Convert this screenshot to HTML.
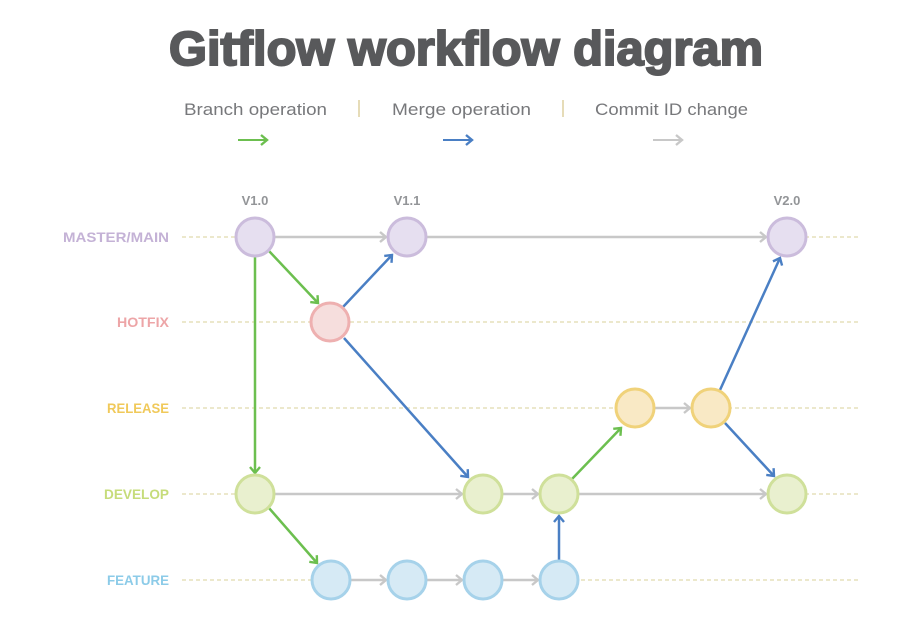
<!DOCTYPE html>
<html><head><meta charset="utf-8"><style>
html,body{margin:0;padding:0;background:#fff}
svg{display:block}
text{font-family:"Liberation Sans",sans-serif}
</style></head><body>
<svg width="917" height="634" viewBox="0 0 917 634" xmlns="http://www.w3.org/2000/svg">
<defs>
<marker id="g" viewBox="0 0 12 12" refX="10" refY="6" markerWidth="12" markerHeight="12" markerUnits="userSpaceOnUse" orient="auto"><path d="M4,1 L10,6 L4,11" fill="none" stroke="#c8c8c8" stroke-width="2.4"/></marker>
<marker id="gr" viewBox="0 0 12 12" refX="10" refY="6" markerWidth="12" markerHeight="12" markerUnits="userSpaceOnUse" orient="auto"><path d="M4,1 L10,6 L4,11" fill="none" stroke="#6cbf4f" stroke-width="2.4"/></marker>
<marker id="b" viewBox="0 0 12 12" refX="10" refY="6" markerWidth="12" markerHeight="12" markerUnits="userSpaceOnUse" orient="auto"><path d="M4,1 L10,6 L4,11" fill="none" stroke="#4a7fc4" stroke-width="2.4"/></marker>
</defs>
<text x="466" y="65" text-anchor="middle" font-size="48" font-weight="bold" fill="#58595b" stroke="#58595b" stroke-width="2" textLength="594" lengthAdjust="spacingAndGlyphs">Gitflow workflow diagram</text>
<g font-size="17" fill="#77787b">
<text x="184" y="115" textLength="143" lengthAdjust="spacingAndGlyphs">Branch operation</text>
<text x="392" y="115" textLength="139" lengthAdjust="spacingAndGlyphs">Merge operation</text>
<text x="595" y="115" textLength="153" lengthAdjust="spacingAndGlyphs">Commit ID change</text>
</g>
<line x1="359" y1="100" x2="359" y2="117" stroke="#e6dcb8" stroke-width="2"/>
<line x1="563" y1="100" x2="563" y2="117" stroke="#e6dcb8" stroke-width="2"/>
<line x1="238" y1="140" x2="267" y2="140" stroke="#6cbf4f" stroke-width="2" marker-end="url(#gr)"/>
<line x1="443" y1="140" x2="472" y2="140" stroke="#4a7fc4" stroke-width="2" marker-end="url(#b)"/>
<line x1="653" y1="140" x2="682" y2="140" stroke="#c8c8c8" stroke-width="2" marker-end="url(#g)"/>
<g stroke="#e6e0bc" stroke-width="1.5" stroke-dasharray="4,3">
<line x1="182" y1="237" x2="860" y2="237"/><line x1="182" y1="322" x2="860" y2="322"/>
<line x1="182" y1="408" x2="860" y2="408"/><line x1="182" y1="494" x2="860" y2="494"/>
<line x1="182" y1="580" x2="860" y2="580"/>
</g>
<g font-size="14" font-weight="bold" text-anchor="end" lengthAdjust="spacingAndGlyphs">
<text x="169" y="242" fill="#c4b2d6" textLength="106" lengthAdjust="spacingAndGlyphs">MASTER/MAIN</text>
<text x="169" y="327" fill="#eda5a7" textLength="52" lengthAdjust="spacingAndGlyphs">HOTFIX</text>
<text x="169" y="413" fill="#f0c95a" textLength="62" lengthAdjust="spacingAndGlyphs">RELEASE</text>
<text x="169" y="499" fill="#c6dc7a" textLength="65" lengthAdjust="spacingAndGlyphs">DEVELOP</text>
<text x="169" y="585" fill="#8ccbe8" textLength="62" lengthAdjust="spacingAndGlyphs">FEATURE</text>
</g>
<g font-size="13" font-weight="bold" fill="#939598" text-anchor="middle">
<text x="255" y="205">V1.0</text><text x="407" y="205">V1.1</text><text x="787" y="205">V2.0</text>
</g>
<g stroke-width="2.5" fill="none">
<line x1="275" y1="237" x2="386" y2="237" stroke="#c8c8c8" marker-end="url(#g)"/>
<line x1="427" y1="237" x2="766" y2="237" stroke="#c8c8c8" marker-end="url(#g)"/>
<line x1="275" y1="494" x2="462" y2="494" stroke="#c8c8c8" marker-end="url(#g)"/>
<line x1="503" y1="494" x2="538" y2="494" stroke="#c8c8c8" marker-end="url(#g)"/>
<line x1="579" y1="494" x2="766" y2="494" stroke="#c8c8c8" marker-end="url(#g)"/>
<line x1="655" y1="408" x2="690" y2="408" stroke="#c8c8c8" marker-end="url(#g)"/>
<line x1="351" y1="580" x2="386" y2="580" stroke="#c8c8c8" marker-end="url(#g)"/>
<line x1="427" y1="580" x2="462" y2="580" stroke="#c8c8c8" marker-end="url(#g)"/>
<line x1="503" y1="580" x2="538" y2="580" stroke="#c8c8c8" marker-end="url(#g)"/>
<line x1="255" y1="257" x2="255" y2="473" stroke="#6cbf4f" marker-end="url(#gr)"/>
<line x1="269" y1="251" x2="318" y2="303" stroke="#6cbf4f" marker-end="url(#gr)"/>
<line x1="269" y1="508" x2="317" y2="563" stroke="#6cbf4f" marker-end="url(#gr)"/>
<line x1="572" y1="479" x2="621" y2="428" stroke="#6cbf4f" marker-end="url(#gr)"/>
<line x1="343" y1="307" x2="392" y2="255" stroke="#4a7fc4" marker-end="url(#b)"/>
<line x1="344" y1="338" x2="468" y2="477" stroke="#4a7fc4" marker-end="url(#b)"/>
<line x1="559" y1="560" x2="559" y2="516" stroke="#4a7fc4" marker-end="url(#b)"/>
<line x1="720" y1="390" x2="780" y2="258" stroke="#4a7fc4" marker-end="url(#b)"/>
<line x1="725" y1="423" x2="774" y2="476" stroke="#4a7fc4" marker-end="url(#b)"/>
</g>
<g stroke-width="3">
<g fill="#e6dff0" stroke="#cbbcdc"><circle cx="255" cy="237" r="19"/><circle cx="407" cy="237" r="19"/><circle cx="787" cy="237" r="19"/></g>
<circle cx="330" cy="322" r="19" fill="#f6dedd" stroke="#eeb0b0"/>
<g fill="#f9e9c5" stroke="#f0d27a"><circle cx="635" cy="408" r="19"/><circle cx="711" cy="408" r="19"/></g>
<g fill="#e9f0cf" stroke="#cfe09a"><circle cx="255" cy="494" r="19"/><circle cx="483" cy="494" r="19"/><circle cx="559" cy="494" r="19"/><circle cx="787" cy="494" r="19"/></g>
<g fill="#d6eaf5" stroke="#a6d2ea"><circle cx="331" cy="580" r="19"/><circle cx="407" cy="580" r="19"/><circle cx="483" cy="580" r="19"/><circle cx="559" cy="580" r="19"/></g>
</g>
</svg>
</body></html>
